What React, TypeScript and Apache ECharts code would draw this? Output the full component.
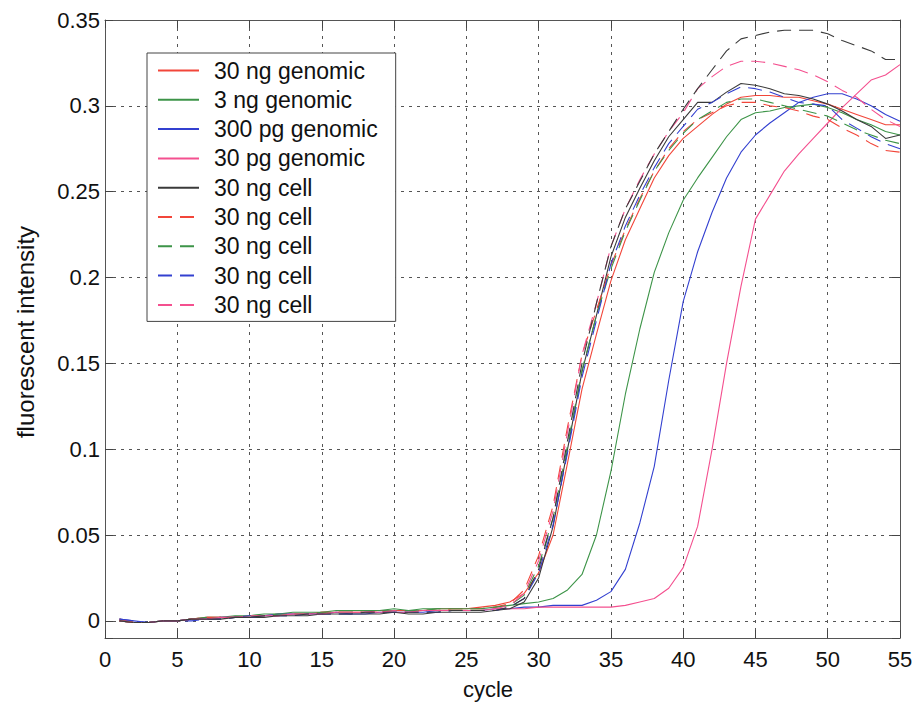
import React, { useEffect, useRef } from "react";
import * as echarts from "echarts";

const cycles = [
  1, 2, 3, 4, 5, 6, 7, 8, 9, 10, 11, 12, 13, 14, 15, 16, 17, 18, 19, 20,
  21, 22, 23, 24, 25, 26, 27, 28, 29, 30, 31, 32, 33, 34, 35, 36, 37, 38, 39, 40,
  41, 42, 43, 44, 45, 46, 47, 48, 49, 50, 51, 52, 53, 54, 55,
];

const red30ngGenomic = [
  0.0, -0.001, -0.001, 0.0, 0.0, 0.001, 0.002, 0.002, 0.002, 0.003,
  0.003, 0.004, 0.004, 0.004, 0.005, 0.005, 0.005, 0.005, 0.006, 0.006,
  0.006, 0.006, 0.007, 0.007, 0.007, 0.008, 0.009, 0.011, 0.016, 0.028,
  0.05, 0.092, 0.135, 0.167, 0.198, 0.222, 0.24, 0.258, 0.271, 0.281,
  0.288, 0.295, 0.301, 0.305, 0.306, 0.306, 0.305, 0.305, 0.303, 0.301,
  0.298, 0.295, 0.292, 0.289, 0.289,
];
const green3ngGenomic = [
  0.001, -0.001, -0.001, 0.0, 0.0, 0.001, 0.002, 0.002, 0.003, 0.003,
  0.004, 0.004, 0.005, 0.005, 0.005, 0.006, 0.006, 0.006, 0.006, 0.007,
  0.006, 0.007, 0.007, 0.007, 0.007, 0.007, 0.008, 0.009, 0.01, 0.011,
  0.013, 0.018, 0.027, 0.05, 0.087, 0.132, 0.17, 0.203, 0.226, 0.245,
  0.258, 0.27, 0.282, 0.292, 0.296, 0.297, 0.299, 0.3, 0.301, 0.299,
  0.296, 0.292, 0.289, 0.285, 0.283,
];
const blue300pgGenomic = [
  0.001, 0.0, -0.001, 0.0, 0.0, 0.001, 0.001, 0.002, 0.002, 0.003,
  0.003, 0.004, 0.004, 0.004, 0.004, 0.005, 0.004, 0.004, 0.005, 0.005,
  0.005, 0.005, 0.006, 0.006, 0.006, 0.006, 0.007, 0.007, 0.008, 0.008,
  0.009, 0.009, 0.009, 0.012, 0.017, 0.03, 0.057, 0.09, 0.14, 0.186,
  0.215, 0.238, 0.258, 0.273, 0.283, 0.29, 0.296, 0.302, 0.305, 0.307,
  0.307, 0.304, 0.3, 0.295, 0.291,
];
const pink30pgGenomic = [
  0.0, -0.001, -0.001, 0.0, 0.0, 0.001, 0.001, 0.002, 0.002, 0.002,
  0.003, 0.003, 0.004, 0.004, 0.004, 0.005, 0.005, 0.005, 0.005, 0.005,
  0.005, 0.006, 0.006, 0.006, 0.006, 0.006, 0.007, 0.007, 0.007, 0.008,
  0.008, 0.008, 0.008, 0.008, 0.008, 0.009, 0.011, 0.013, 0.019, 0.031,
  0.055, 0.1, 0.15, 0.195, 0.234, 0.248, 0.262, 0.272, 0.281, 0.29,
  0.299, 0.307, 0.315, 0.318, 0.324,
];
const blackCell = [
  0.0, -0.001, -0.001, 0.0, 0.0, 0.001, 0.001, 0.001, 0.002, 0.002,
  0.002, 0.003, 0.003, 0.003, 0.004, 0.004, 0.004, 0.004, 0.004, 0.005,
  0.004, 0.004, 0.005, 0.005, 0.005, 0.005, 0.006, 0.007, 0.011, 0.025,
  0.055, 0.1, 0.145, 0.178, 0.212, 0.235, 0.252, 0.268, 0.282, 0.292,
  0.302, 0.302, 0.308, 0.313, 0.312, 0.31, 0.307, 0.306, 0.304, 0.301,
  0.297, 0.292, 0.288, 0.281, 0.283,
];
const redDashCell = [
  0.001, -0.001, -0.001, 0.0, 0.0, 0.001, 0.002, 0.002, 0.002, 0.003,
  0.003, 0.003, 0.004, 0.004, 0.005, 0.005, 0.005, 0.005, 0.005, 0.006,
  0.006, 0.006, 0.006, 0.007, 0.007, 0.007, 0.008, 0.01, 0.018, 0.038,
  0.067, 0.113, 0.155, 0.181, 0.207, 0.228, 0.246, 0.262, 0.275, 0.285,
  0.292, 0.296, 0.3, 0.302, 0.302, 0.3, 0.299, 0.297, 0.294, 0.292,
  0.287, 0.283, 0.278, 0.274, 0.273,
];
const greenDashCell = [
  0.0, -0.001, -0.001, 0.0, 0.0, 0.001, 0.001, 0.002, 0.002, 0.003,
  0.003, 0.004, 0.004, 0.004, 0.005, 0.005, 0.005, 0.006, 0.006, 0.006,
  0.006, 0.006, 0.007, 0.007, 0.007, 0.007, 0.008, 0.009, 0.015, 0.032,
  0.06, 0.102, 0.146, 0.178, 0.205, 0.227, 0.245, 0.262, 0.274, 0.284,
  0.292, 0.297, 0.302, 0.304, 0.304, 0.302, 0.3, 0.298, 0.296, 0.294,
  0.29, 0.286, 0.283, 0.28, 0.278,
];
const blueDashCell = [
  0.001, 0.0, -0.001, 0.0, 0.0, 0.0, 0.001, 0.001, 0.002, 0.002,
  0.003, 0.003, 0.003, 0.004, 0.004, 0.004, 0.004, 0.005, 0.005, 0.005,
  0.005, 0.005, 0.005, 0.006, 0.006, 0.006, 0.006, 0.008, 0.013, 0.028,
  0.056, 0.098, 0.142, 0.175, 0.208, 0.23, 0.248, 0.264, 0.278, 0.288,
  0.298, 0.302, 0.307, 0.311, 0.31, 0.308, 0.305, 0.302, 0.301, 0.3,
  0.292, 0.287, 0.282, 0.278, 0.275,
];
const pinkDashCell = [
  0.0, -0.001, -0.001, 0.0, 0.0, 0.001, 0.001, 0.002, 0.002, 0.003,
  0.003, 0.003, 0.004, 0.004, 0.004, 0.005, 0.005, 0.005, 0.005, 0.006,
  0.005, 0.006, 0.006, 0.006, 0.006, 0.006, 0.007, 0.009, 0.016, 0.035,
  0.064, 0.11, 0.155, 0.185, 0.218, 0.24, 0.257, 0.272, 0.285, 0.296,
  0.31, 0.317, 0.323, 0.326, 0.326, 0.325, 0.323, 0.321, 0.318, 0.314,
  0.309, 0.305, 0.298, 0.292, 0.288,
];
const blackDashCell = [
  0.0, -0.001, -0.001, 0.0, 0.0, 0.001, 0.001, 0.001, 0.002, 0.002,
  0.003, 0.003, 0.003, 0.004, 0.004, 0.004, 0.004, 0.005, 0.005, 0.005,
  0.005, 0.005, 0.005, 0.006, 0.006, 0.006, 0.006, 0.008, 0.013, 0.03,
  0.06, 0.105, 0.15, 0.185, 0.218, 0.24, 0.256, 0.272, 0.285, 0.298,
  0.31, 0.321, 0.332, 0.339, 0.341, 0.343, 0.344, 0.344, 0.344, 0.342,
  0.338, 0.335, 0.332, 0.327, 0.327,
];

const seriesKeys = ["g30ng", "g3ng", "g300pg", "g30pg", "c1", "c2", "c3", "c4", "c5", "c6"];
const legendLabels = [
  "30 ng genomic",
  "3 ng genomic",
  "300 pg genomic",
  "30 pg genomic",
  "30 ng cell",
  "30 ng cell",
  "30 ng cell",
  "30 ng cell",
  "30 ng cell",
];
const seriesValues = [
  red30ngGenomic,
  green3ngGenomic,
  blue300pgGenomic,
  pink30pgGenomic,
  blackCell,
  redDashCell,
  greenDashCell,
  blueDashCell,
  pinkDashCell,
  blackDashCell,
];
const seriesColors = [
  "#f2463a",
  "#3d9448",
  "#3340d0",
  "#f4508f",
  "#3a3a3a",
  "#f2463a",
  "#3d9448",
  "#3340d0",
  "#f4508f",
  "#3a3a3a",
];
const seriesDashed = [false, false, false, false, false, true, true, true, true, true];

const xTicks = { min: 0, max: 55, interval: 5 };
const yRange = { min: -0.01, max: 0.35 };

const FONT = "'Liberation Sans', Arial, Helvetica, sans-serif";

export default function App() {
  const ref = useRef<HTMLDivElement>(null);
  useEffect(() => {
    if (!ref.current) return;
    const chart = echarts.init(ref.current, undefined, { renderer: "svg" });
    const gridLine = { show: true, lineStyle: { color: "#555", type: [3, 5], width: 1 } };
    const tick = { show: true, inside: true, length: 8, lineStyle: { color: "#444" } };
    const labelMap: Record<string, string> = {};
    seriesKeys.forEach((k, i) => {
      if (i < legendLabels.length) labelMap[k] = legendLabels[i];
    });
    const yBase = {
      type: "value" as const,
      min: yRange.min,
      max: yRange.max,
      splitNumber: 7,
      minInterval: 0.05,
      maxInterval: 0.05,
      axisLine: { show: true, onZero: false, lineStyle: { color: "#555" } },
      axisTick: tick,
    };
    const xBase = {
      type: "value" as const,
      min: xTicks.min,
      max: xTicks.max,
      interval: xTicks.interval,
      axisLine: { show: true, onZero: false, lineStyle: { color: "#555" } },
      axisTick: tick,
    };
    chart.setOption({
      animation: false,
      backgroundColor: "#fff",
      textStyle: { fontFamily: FONT },
      grid: { left: 105, right: 16, top: 20, bottom: 69, containLabel: false },
      xAxis: [
        {
          ...xBase,
          position: "bottom",
          splitLine: gridLine,
          axisLabel: { fontFamily: FONT, fontSize: 22, color: "#111", margin: 10 },
        },
        {
          ...xBase,
          position: "top",
          splitLine: { show: false },
          axisLabel: { show: false },
        },
      ],
      yAxis: [
        {
          ...yBase,
          position: "left",
          splitLine: gridLine,
          axisLabel: {
            fontFamily: FONT,
            fontSize: 22,
            color: "#111",
            margin: 5,
            formatter: (v: number) => (v < -0.0001 ? "" : String(Math.round(v * 100) / 100)),
          },
        },
        {
          ...yBase,
          position: "right",
          splitLine: { show: false },
          axisLabel: { show: false },
        },
      ],
      legend: {
        orient: "vertical",
        left: 147,
        top: 53,
        data: seriesKeys.slice(0, legendLabels.length),
        formatter: (name: string) => labelMap[name] ?? name,
        backgroundColor: "#fff",
        borderColor: "#444",
        borderWidth: 1,
        borderRadius: 0,
        padding: [6, 18, 5, 10],
        itemGap: 6.3,
        itemWidth: 41,
        itemHeight: 12,
        selectedMode: false,
        itemStyle: { color: "rgba(0,0,0,0)", borderWidth: 0, opacity: 0 },
        textStyle: {
          fontFamily: FONT,
          fontSize: 23,
          color: "#111",
          lineHeight: 23,
          padding: [0, 0, 0, 10],
        },
      },
      graphic: [
        {
          type: "text",
          x: 488,
          y: 689,
          style: {
            text: "cycle",
            font: `22px ${FONT}`,
            fill: "#111",
            align: "center",
            verticalAlign: "middle",
          },
        },
        {
          type: "text",
          x: 25,
          y: 332,
          rotation: Math.PI / 2,
          style: {
            text: "fluorescent intensity",
            font: `24px ${FONT}`,
            fill: "#111",
            align: "center",
            verticalAlign: "middle",
          },
        },
      ],
      series: seriesKeys.map((k, i) => ({
        name: k,
        type: "line",
        xAxisIndex: 0,
        yAxisIndex: 0,
        showSymbol: false,
        symbol: "none",
        z: 2 + i,
        data: cycles.map((c, j) => [c, seriesValues[i][j]]),
        lineStyle: {
          color: seriesColors[i],
          width: 1.1,
          type: seriesDashed[i] ? [14, 8] : "solid",
        },
        itemStyle: { color: seriesColors[i] },
      })),
    });
    return () => chart.dispose();
  }, []);
  return (
    <div
      ref={ref}
      style={{ position: "fixed", left: 0, top: 0, width: 916, height: 707, background: "#fff" }}
    />
  );
}
